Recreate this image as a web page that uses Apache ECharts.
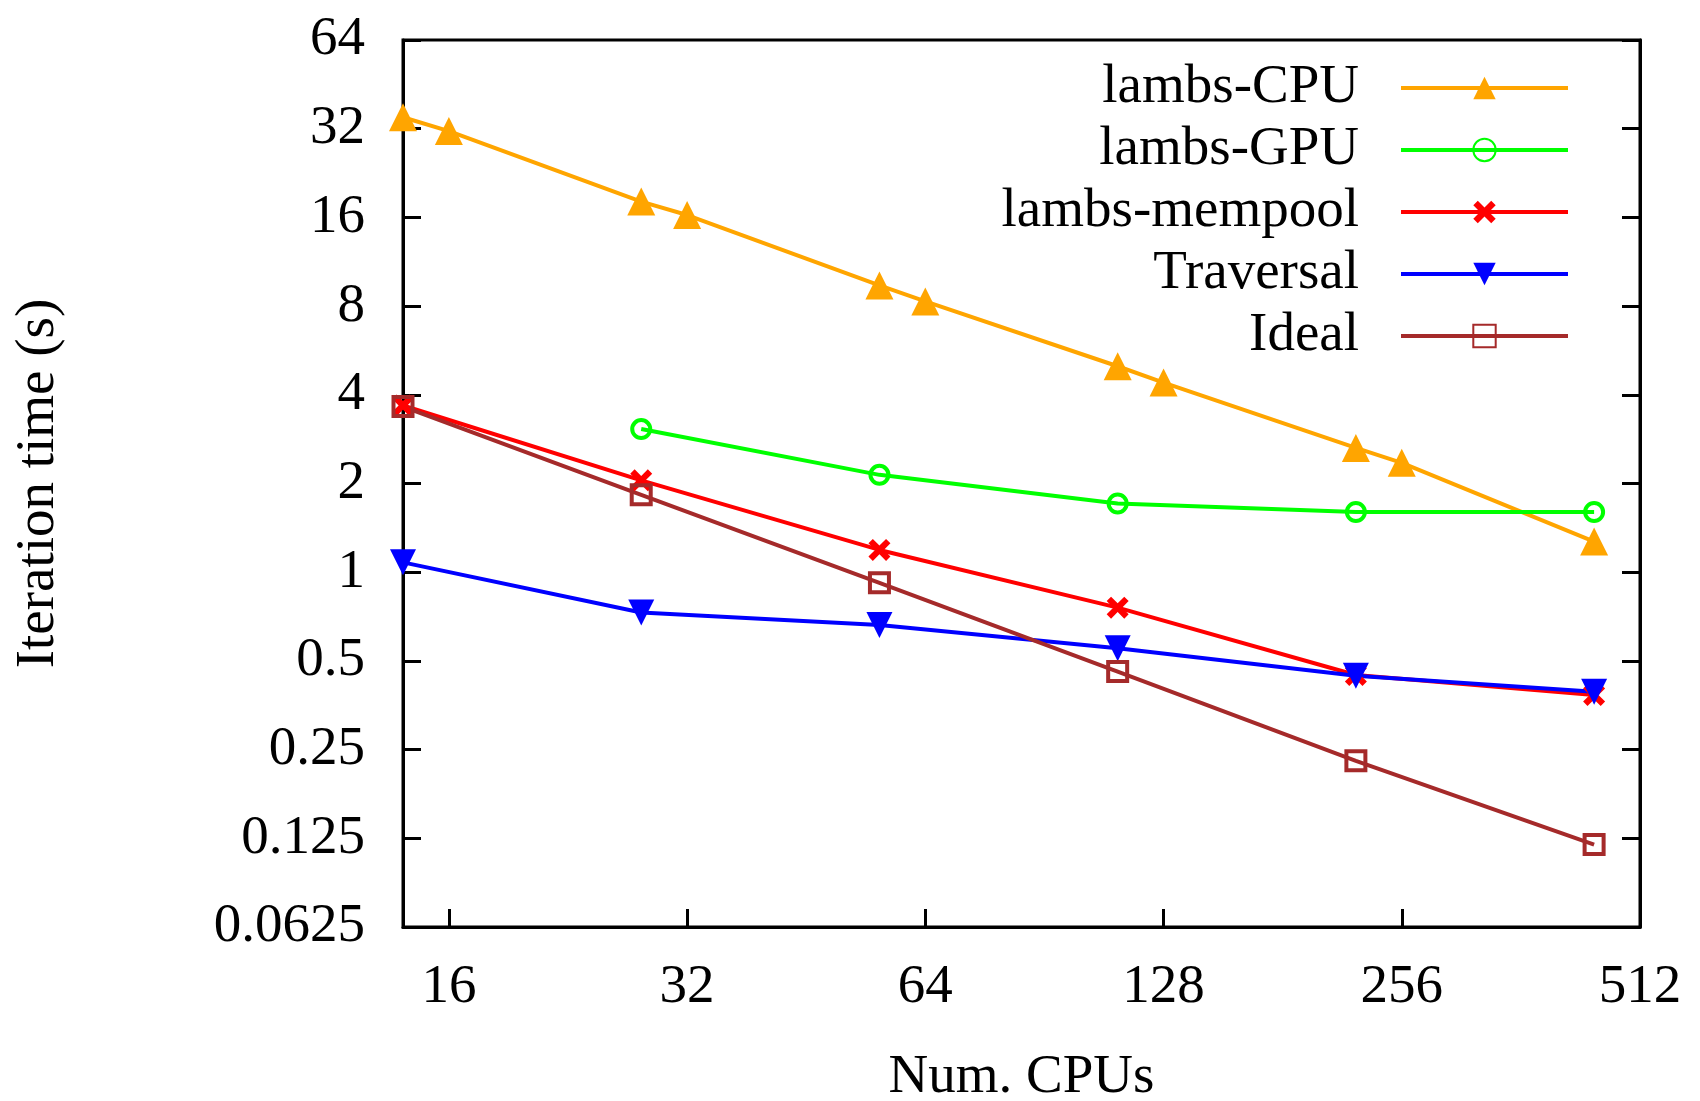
<!DOCTYPE html>
<html>
<head>
<meta charset="utf-8">
<script src="https://cdn.jsdelivr.net/npm/echarts@6/dist/echarts.min.js"></script>
<style>
  html, body { margin: 0; padding: 0; background: #fff; }
  #chart { width: 1700px; height: 1101px; }
</style>
</head>
<body>
<div id="chart"></div>
<script>
// number of CPUs
const cpuX = [14, 16, 28, 32, 56, 64, 112, 128, 224, 256, 448];
const runX = [14, 28, 56, 112, 224, 448];
const gpuX = [28, 56, 112, 224, 448];

// iteration time (s)
const lambsCpu = [35.0, 31.4, 18.1, 16.3, 9.4, 8.3, 5.0, 4.4, 2.64, 2.35, 1.27];
const lambsGpu = [3.06, 2.14, 1.71, 1.60, 1.60];
const lambsMempool = [3.68, 2.05, 1.19, 0.758, 0.448, 0.383];
const traversal = [1.08, 0.73, 0.662, 0.552, 0.445, 0.393];
const ideal = [3.65, 1.83, 0.92, 0.46, 0.229, 0.119];

const FONT = "Liberation Serif";
const FS = 55;

function pairs(xs, ys) {
  return xs.map((x, i) => [x, ys[i]]);
}
function isPow2(v) {
  const l = Math.log2(v);
  return Math.abs(l - Math.round(l)) < 1e-6;
}

const crossPath = "path://M0,2 L2,0 L5,3 L8,0 L10,2 L7,5 L10,8 L8,10 L5,7 L2,10 L0,8 L3,5 Z";

const chart = echarts.init(document.getElementById("chart"));

const yCommon = {
  type: "log",
  logBase: 2,
  min: 0.0625,
  max: 64,
  interval: 1,
  axisLine: { show: true, lineStyle: { color: "#000", width: 3 } },
  axisTick: { show: true, inside: true, length: 18, lineStyle: { color: "#000", width: 3 } },
  splitLine: { show: false },
};

const option = {
  backgroundColor: "#fff",
  animation: false,
  textStyle: { fontFamily: FONT },
  grid: {
    left: 403, right: 60, top: 40, bottom: 174,
    outerBoundsMode: "none",
    containLabel: false,
    show: true, borderColor: "#000", borderWidth: 3, backgroundColor: "transparent",
  },
  legend: {
    orient: "vertical",
    right: 125,
    top: 52,
    align: "right",
    itemWidth: 167,
    itemHeight: 28,
    itemGap: 0,
    lineStyle: { width: 4 },
    textStyle: {
      fontFamily: FONT,
      fontSize: FS,
      color: "#000",
      lineHeight: 62,
      padding: [0, 37, 0, 0],
    },
    data: ["lambs-CPU", "lambs-GPU", "lambs-mempool", "Traversal", "Ideal"],
  },
  xAxis: {
    type: "log",
    logBase: 2,
    min: 14,
    max: 512,
    name: "Num. CPUs",
    nameLocation: "middle",
    nameGap: 123,
    nameTextStyle: { fontFamily: FONT, fontSize: FS, color: "#000" },
    axisLine: { show: true, lineStyle: { color: "#000", width: 3 } },
    axisTick: { show: true, inside: true, length: 18, lineStyle: { color: "#000", width: 3 } },
    axisLabel: {
      margin: 33,
      fontFamily: FONT,
      fontSize: FS,
      color: "#000",
      showMinLabel: false,
      formatter: (v) => (isPow2(v) ? String(Math.round(v)) : ""),
    },
    splitLine: { show: false },
  },
  yAxis: [
    Object.assign({}, yCommon, {
      position: "left",
      name: "Iteration time (s)",
      nameLocation: "middle",
      nameRotate: 90,
      nameGap: 337,
      nameTextStyle: { fontFamily: FONT, fontSize: FS, color: "#000" },
      axisLabel: {
        margin: 38,
        fontFamily: FONT,
        fontSize: FS,
        color: "#000",
        formatter: (v) => String(+v.toPrecision(6)),
      },
    }),
    Object.assign({}, yCommon, {
      position: "right",
      axisLabel: { show: false },
    }),
  ],
  series: [
    {
      name: "lambs-CPU",
      type: "line",
      data: pairs(cpuX, lambsCpu),
      color: "#ffa500",
      symbol: "triangle",
      symbolSize: 28,
      lineStyle: { color: "#ffa500", width: 4 },
      itemStyle: { color: "#ffa500" },
    },
    {
      name: "lambs-GPU",
      type: "line",
      data: pairs(gpuX, lambsGpu),
      color: "#00ff00",
      symbol: "circle",
      symbolSize: 18,
      lineStyle: { color: "#00ff00", width: 4 },
      itemStyle: { color: "rgba(0,0,0,0)", borderColor: "#00ff00", borderWidth: 4 },
    },
    {
      name: "lambs-mempool",
      type: "line",
      data: pairs(runX, lambsMempool),
      color: "#ff0000",
      symbol: crossPath,
      symbolSize: 22,
      lineStyle: { color: "#ff0000", width: 4 },
      itemStyle: { color: "#ff0000" },
    },
    {
      name: "Traversal",
      type: "line",
      data: pairs(runX, traversal),
      color: "#0000ff",
      symbol: "triangle",
      symbolRotate: 180,
      symbolSize: 26,
      lineStyle: { color: "#0000ff", width: 4 },
      itemStyle: { color: "#0000ff" },
    },
    {
      name: "Ideal",
      type: "line",
      data: pairs(runX, ideal),
      color: "#a52a2a",
      symbol: "rect",
      symbolSize: 19,
      lineStyle: { color: "#a52a2a", width: 4 },
      itemStyle: { color: "rgba(0,0,0,0)", borderColor: "#a52a2a", borderWidth: 4 },
    },
  ],
};

chart.setOption(option);
</script>
</body>
</html>
